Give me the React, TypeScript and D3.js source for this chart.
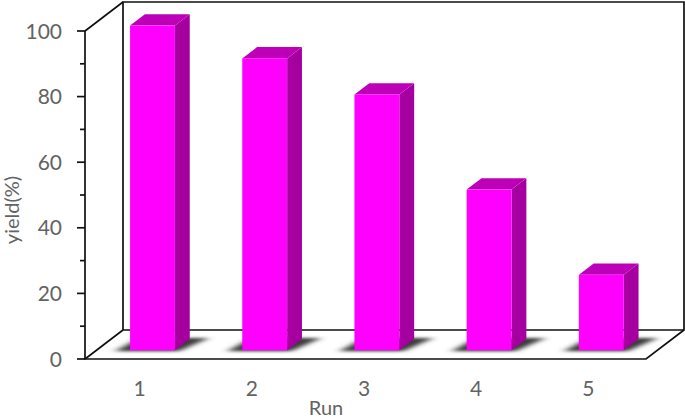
import * as d3 from "d3";

const runs = ["1", "2", "3", "4", "5"];
const yields = [99, 89, 78, 49, 23];
const majorTicks = [0, 20, 40, 60, 80, 100];
const minorTicks = [10, 30, 50, 70, 90];

const width = 685;
const height = 418;
const front = { left: 85, right: 646, top: 31, bottom: 359 };
const depth = { dx: 38, dy: -29 };

const magenta = "#ff00ff";
const sideColor = "#a5009f";
const topColor = "#bd00b8";
const fontFamily = "Lato, 'Open Sans', sans-serif";

const x = d3.scaleBand<string>().domain(runs).range([front.left, front.right]).paddingInner(0.6).paddingOuter(0.3);
const y = d3.scaleLinear().domain([0, 100]).range([front.bottom, front.top]);
const line = d3.line();

// bars sit 30% of the way back on the floor and take 39% of its depth
const barShift = 0.3;
const barDepth = 0.39;

function polygon(points: [number, number][]) {
  return `${line(points)}Z`;
}

export default function App() {
  const back = (px: number, py: number): [number, number] => [px + depth.dx, py + depth.dy];
  const sx = depth.dx * barShift;
  const sy = depth.dy * barShift;
  const bx = depth.dx * barDepth;
  const by = depth.dy * barDepth;

  return (
    <svg width={width} height={height} style={{ position: "absolute", left: 0, top: 0, background: "#fff" }}>
      <defs>
        <filter id="shadow" x="-30%" y="-100%" width="160%" height="300%">
          <feGaussianBlur stdDeviation="4 1.8" />
        </filter>
      </defs>

      <g fill="none" stroke="#111" strokeWidth={1.7}>
        <path d={polygon([back(front.left, front.top), back(front.right, front.top), back(front.right, front.bottom), back(front.left, front.bottom)])} />
        <path d={line([[front.left, front.top], back(front.left, front.top)]) ?? ""} />
        <path d={line([[front.left, front.top], [front.left, front.bottom], [front.right, front.bottom], back(front.right, front.bottom)]) ?? ""} />
        <path d={line([[front.left, front.bottom], back(front.left, front.bottom)]) ?? ""} />
        {majorTicks.map((tick) => (
          <line key={tick} x1={front.left - 8} x2={front.left} y1={y(tick)} y2={y(tick)} />
        ))}
        {minorTicks.map((tick) => (
          <line key={tick} x1={front.left - 5} x2={front.left} y1={y(tick)} y2={y(tick)} />
        ))}
      </g>

      {runs.map((run, i) => {
        const x0 = (x(run) ?? 0) + sx;
        const x1 = x0 + x.bandwidth();
        const base = front.bottom + sy;
        const top = base - (y(0) - y(yields[i]));
        return (
          <g key={run}>
            <path
              d={polygon([[x0 - 15, base + 1], [x1 + 4, base + 1], [x1 + bx + 19, base + by - 1], [x0 + bx - 6, base + by - 1]])}
              fill="#3a3a3a"
              filter="url(#shadow)"
            />
            <path d={polygon([[x1, base], [x1 + bx, base + by], [x1 + bx, top + by], [x1, top]])} fill={sideColor} />
            <path d={polygon([[x0, top], [x0 + bx, top + by], [x1 + bx, top + by], [x1, top]])} fill={topColor} />
            <rect x={x0} y={top} width={x.bandwidth()} height={base - top} fill={magenta} />
          </g>
        );
      })}

      <g fill="#636363" fontFamily={fontFamily}>
        {majorTicks.map((tick) => (
          <text key={tick} x={62} y={y(tick) + 7.5} textAnchor="end" fontSize={21}>{tick}</text>
        ))}
        {runs.map((run) => (
          <text key={run} x={(x(run) ?? 0) + x.bandwidth() / 2 - 1.5} y={396} textAnchor="middle" fontSize={21}>{run}</text>
        ))}
        <text x={326} y={415} textAnchor="middle" fontSize={20}>Run</text>
        <text transform="translate(19, 210) rotate(-90)" textAnchor="middle" fontSize={20}>yield(%)</text>
      </g>
    </svg>
  );
}
